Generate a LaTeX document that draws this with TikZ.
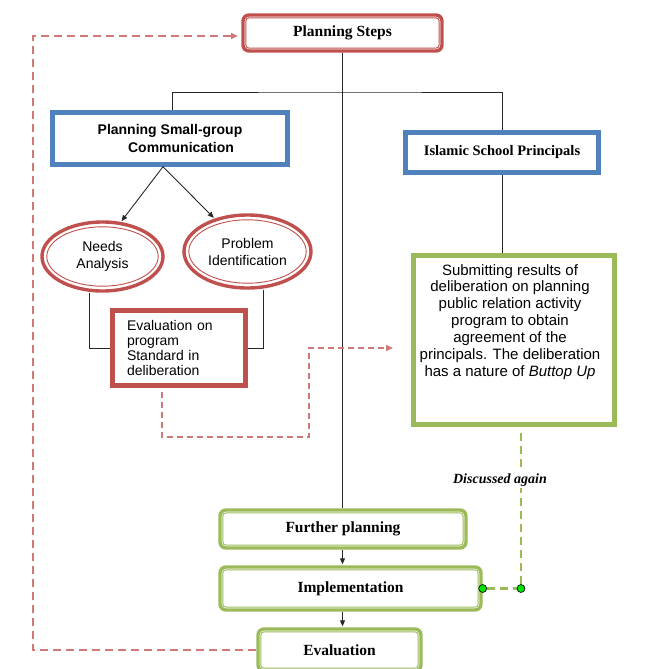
\documentclass[tikz,border=0pt]{standalone}
\usepackage{fontspec}
\setmainfont{Liberation Serif}
\newfontfamily\arialf{Liberation Sans}
\usetikzlibrary{shapes.geometric,arrows.meta}
\definecolor{ored}{HTML}{C0504D}
\definecolor{oblue}{HTML}{4F81BD}
\definecolor{ogreen}{HTML}{9BBB59}
\definecolor{dred}{HTML}{D07A78}
\definecolor{dotgreen}{HTML}{00E000}
\newcommand\inrect[3]{\draw[#2,line width=0.9pt,rounded corners=#3] ([xshift=4.6pt,yshift=4.6pt]#1.south west) rectangle ([xshift=-4.6pt,yshift=-4.6pt]#1.north east);}
\newcommand\inoval[4]{\draw[#2,line width=0.9pt] (#1.center) ellipse [x radius=#3, y radius=#4];}
\begin{document}
\begin{tikzpicture}[x=1pt,y=-1pt,
  box/.style={draw=#1,line width=3.4pt,fill=white,inner sep=0pt},
  rbox/.style={box=#1,rounded corners=6pt},
  oval/.style={draw=#1,ellipse,line width=3.4pt,fill=white,inner sep=0pt},
  conn/.style={black!85,line width=0.9pt},
  arr/.style={conn,-{Triangle[length=6pt,width=5pt]},shorten >=1pt},
  reddash/.style={dred,line width=2pt,dash pattern=on 8pt off 5pt},
  redfine/.style={dred,line width=1.5pt,dash pattern=on 6pt off 4pt},
  greendash/.style={ogreen,line width=2.4pt,dash pattern=on 8pt off 5pt},
  redtip/.style={-{Triangle[length=7pt,width=6pt]}},
  ser/.style={font=\bfseries\fontsize{15.5}{18}\selectfont},
  san/.style={font=\arialf\fontsize{14}{17}\selectfont,align=center},
  dot/.style={circle,draw=black,fill=dotgreen,line width=0.6pt,minimum size=8pt,inner sep=0pt}
]
\useasboundingbox (0,0) rectangle (662,669);

% nodes
\node[rbox=ored, ser, minimum width=199pt, minimum height=36pt] (ps) at (342.5,33) {Planning Steps};
\inrect{ps}{ored}{3pt}
\node[box=oblue, font=\arialf\bfseries\fontsize{14}{17.5}\selectfont, align=center, minimum width=236pt, minimum height=53pt] (sg) at (170,138.5) {Planning Small-group\\\hspace*{22pt}Communication};
\inrect{sg}{oblue}{0pt}
\node[box=oblue, font=\bfseries\fontsize{14.5}{17}\selectfont, minimum width=194pt, minimum height=41pt] (isp) at (502,152.5) {Islamic School Principals};
\inrect{isp}{oblue}{0pt}
\node[oval=ored, san, minimum width=121pt, minimum height=69pt] (na) at (102.5,256.5) {Needs\\Analysis};
\inoval{na}{ored}{55.7pt}{29.7pt}
\node[oval=ored, san, minimum width=127pt, minimum height=73pt] (pi) at (247.5,251.5) {Problem\\Identification};
\inoval{pi}{ored}{58.7pt}{31.7pt}
\node[box=ored, line width=4.2pt, font=\arialf\fontsize{14}{14.7}\selectfont, align=left, text width=104pt, minimum width=134pt, minimum height=76pt] (evb) at (179,348) {Evaluation on\\program\\Standard in\\deliberation};
\inrect{evb}{ored}{0pt}
\node[box=ogreen, minimum width=202pt, minimum height=170pt] (gb) at (514,340) {};
\inrect{gb}{ogreen}{0pt}
\node[san, font=\arialf\fontsize{15}{16.9}\selectfont, anchor=north, inner sep=0pt] (gbt) at (510,264) {Submitting results of\\deliberation on planning\\public relation activity\\program to obtain\\agreement of the\\principals. The deliberation\\has a nature of \textit{Buttop Up}};
\node[rbox=ogreen, ser, minimum width=246pt, minimum height=38pt] (fp) at (343,529) {Further planning};
\inrect{fp}{ogreen}{3pt}
\node[rbox=ogreen, ser, minimum width=261pt, minimum height=43pt] (im) at (350.5,588.5) {Implementation};
\inrect{im}{ogreen}{3pt}
\node[rbox=ogreen, ser, minimum width=163pt, minimum height=42pt] (evn) at (339.5,650) {Evaluation};
\inrect{evn}{ogreen}{3pt}

% coordinates
\coordinate (hj) at (342.5,92);
\coordinate (d1) at (309,437);
\coordinate (d2) at (393,348);
\coordinate (l1) at (33,36);
\coordinate (l2) at (238,36);
\coordinate (g1) at (521,588.5);

% connectors
\draw[conn] (ps.south) -- (ps.south |- fp.north);
\draw[conn] ([xshift=2pt]sg.north) |- (hj) -| (isp.north);
\draw[conn] (isp.south) -- (isp.south |- gb.north);
\draw[arr] ([xshift=-7pt]sg.south) -- (na.62);
\draw[arr] ([xshift=-7pt]sg.south) -- (pi.135);
\draw[conn] ([xshift=-13pt]na.south) |- (evb.west);
\draw[conn] ([xshift=15.5pt]pi.south) |- (evb.east);
\draw[arr] (ps.south |- fp.south) -- (ps.south |- im.north);
\draw[arr] (ps.south |- im.south) -- (ps.south |- evn.north);

\draw[redfine,redtip] ([xshift=-17pt,yshift=-4pt]evb.south) |- (d1) |- (d2);
\draw[reddash,redtip] (evn.west) -| (l1) -- (l2);

\draw[greendash] ([xshift=7pt,yshift=-6pt]gb.south) -- (g1) -- (im.east);
\node[fill=white, inner sep=2pt, font=\bfseries\itshape\fontsize{14}{16}\selectfont] (da) at (500,480) {Discussed again};
\node[dot] (dt1) at (im.east) {};
\node[dot] (dt2) at (g1) {};
\end{tikzpicture}
\end{document}
